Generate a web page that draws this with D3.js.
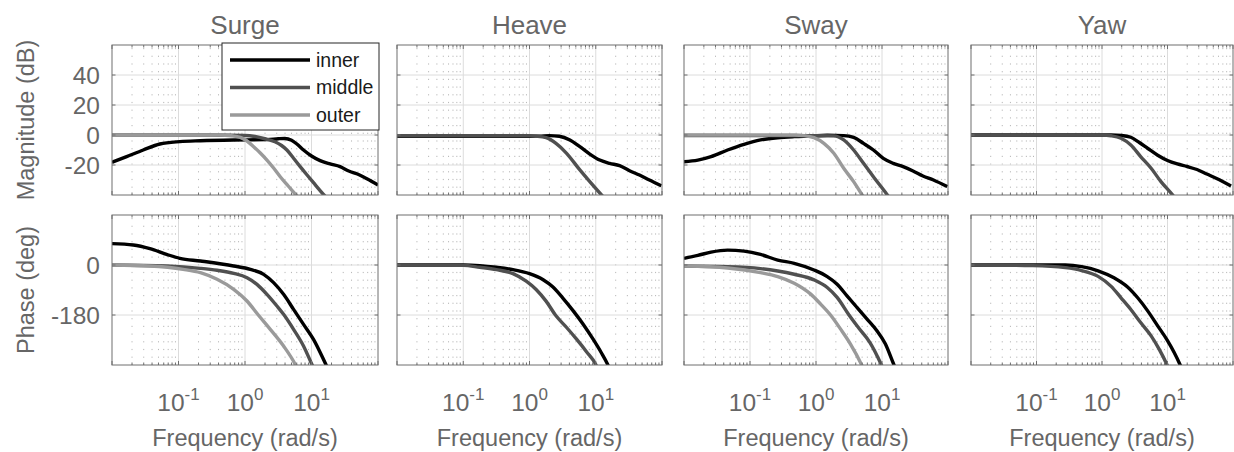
<!DOCTYPE html>
<html>
<head>
<meta charset="utf-8">
<script src="https://cdn.jsdelivr.net/npm/d3@7"></script>
<style>
	body { margin: 0; background: #fff; }
	svg { display: block; font-family: "Liberation Sans", Arial, sans-serif; }
</style>
</head>
<body>
<svg id="chart" width="1234" height="452"></svg>
<script>
// Values: [log10(frequency in rad/s), value]
const panelTitles = ["Surge", "Heave", "Sway", "Yaw"];
const seriesNames = ["inner", "middle", "outer"];
const seriesColors = ["#000000", "#505050", "#9a9a9a"];

const magTicks = [-20, 0, 20, 40];
const phaseTicks = [-180, 0];
const freqTickExps = [-1, 0, 1];

// Surge
const surgeMagInner = [[-2.0, -18.2], [-1.78, -14.4], [-1.53, -10], [-1.28, -6], [-0.98, -4.4], [-0.67, -3.8], [-0.17, -3.3], [0.33, -3.1], [0.5, -2.5], [0.6, -2.3], [0.7, -3.5], [0.78, -6], [0.88, -10], [1.0, -14], [1.13, -17.1], [1.28, -19.3], [1.43, -21.1], [1.56, -24], [1.69, -26], [1.84, -29.3], [2.0, -33.3]];
const surgeMagMiddle = [[-2.0, 0], [-0.5, 0], [0.0, -0.3], [0.15, -1], [0.3, -2.5], [0.45, -4.5], [0.55, -7], [0.63, -10], [0.73, -15.5], [0.83, -21.1], [0.93, -26.5], [1.03, -31.8], [1.18, -39.6], [1.25, -43]];
const surgeMagOuter = [[-2.0, 0], [-0.4, 0], [-0.2, -0.5], [-0.07, -1.6], [0.03, -4], [0.13, -7.8], [0.23, -12], [0.33, -16.7], [0.43, -22], [0.53, -27.8], [0.65, -34], [0.76, -39.6], [0.82, -43]];
const surgePhaseInner = [[-2.0, 76.8], [-1.68, 72], [-1.43, 58.8], [-1.18, 38.4], [-0.98, 24], [-0.67, 14.4], [-0.17, -3.6], [0.08, -15.6], [0.28, -33.6], [0.43, -63.6], [0.58, -105.6], [0.73, -159.6], [0.88, -213.6], [1.03, -267.6], [1.22, -360], [1.26, -380]];
const surgePhaseMiddle = [[-2.0, 0], [-1.18, -3.6], [-0.67, -12], [-0.42, -19], [-0.17, -30], [0.03, -45.6], [0.18, -69.6], [0.33, -105.6], [0.48, -147.6], [0.58, -177.6], [0.73, -231.6], [0.88, -291.6], [1.01, -360], [1.05, -380]];
const surgePhaseOuter = [[-2.0, 0], [-1.43, -3.6], [-0.93, -15.6], [-0.67, -27.6], [-0.42, -51.6], [-0.17, -87.6], [0.03, -129.6], [0.2, -180], [0.38, -231.6], [0.58, -291.6], [0.76, -360], [0.8, -380]];

// Heave
const heaveMagInner = [[-2.0, -0.8], [0.15, -0.8], [0.3, -0.4], [0.45, -0.8], [0.61, -3.3], [0.76, -7.8], [0.91, -12.7], [1.06, -16.7], [1.21, -18.9], [1.36, -20.4], [1.51, -23.8], [1.66, -26.7], [1.81, -30], [1.99, -33.8]];
const heaveMagMiddle = [[-2.0, -0.5], [0.0, -0.5], [0.1, -0.8], [0.25, -1.8], [0.4, -5.6], [0.56, -12.2], [0.76, -23.3], [0.91, -31.1], [1.08, -39.6], [1.15, -43]];
const heavePhaseInner = [[-2.0, 0], [-1.0, 0], [-0.75, -2.4], [-0.5, -8.3], [-0.25, -16.7], [0.0, -31], [0.2, -52], [0.35, -78.5], [0.5, -118], [0.66, -165], [0.81, -213], [0.96, -267], [1.08, -314], [1.18, -358], [1.22, -380]];
const heavePhaseMiddle = [[-2.0, 0], [-1.0, -1.2], [-0.75, -8.3], [-0.5, -16.7], [-0.25, -31], [-0.05, -58], [0.1, -88], [0.25, -130], [0.4, -183], [0.56, -225], [0.71, -267], [0.86, -312], [1.0, -358], [1.04, -380]];

// Sway
const swayMagInner = [[-2.0, -17.8], [-1.79, -16.7], [-1.59, -14.4], [-1.34, -10], [-1.09, -6.2], [-0.84, -3.3], [-0.58, -1.8], [-0.33, -1.1], [-0.08, -0.7], [0.17, -0.2], [0.42, -0.4], [0.57, -1.6], [0.72, -5.6], [0.87, -10], [1.02, -15.6], [1.17, -18.9], [1.32, -21.1], [1.47, -24], [1.62, -27.3], [1.78, -30], [1.99, -34.4]];
const swayMagMiddle = [[-2.0, -0.3], [0.1, -0.5], [0.27, -0.6], [0.42, -3.3], [0.57, -10], [0.72, -18.9], [0.87, -27.8], [1.07, -39.3], [1.15, -44]];
const swayMagOuter = [[-2.0, 0], [-0.33, 0], [-0.18, -0.4], [-0.03, -1.8], [0.12, -5.6], [0.27, -12.2], [0.42, -22.2], [0.57, -31.1], [0.69, -39.3], [0.75, -43]];
const swayPhaseInner = [[-2.0, 23.8], [-1.79, 34.6], [-1.59, 46.5], [-1.34, 53.6], [-1.09, 50], [-0.84, 38], [-0.58, 17.9], [-0.33, 6], [-0.03, -17.9], [0.17, -41.7], [0.32, -69], [0.47, -111], [0.62, -152.6], [0.77, -194], [0.92, -236], [1.05, -283.7], [1.18, -358.8], [1.22, -380]];
const swayPhaseMiddle = [[-2.0, -3.6], [-1.34, -6], [-0.84, -13], [-0.58, -21.5], [-0.33, -33.4], [-0.03, -53.6], [0.17, -81], [0.32, -116.8], [0.5, -180], [0.65, -227.7], [0.82, -280], [0.99, -358.8], [1.03, -380]];
const swayPhaseOuter = [[-2.0, -3.6], [-1.34, -10.7], [-0.84, -27.4], [-0.58, -41.7], [-0.33, -65.6], [-0.08, -104.9], [0.07, -140.7], [0.22, -180], [0.37, -230], [0.52, -283.7], [0.69, -358.8], [0.73, -380]];

// Yaw
const yawMagInner = [[-2.0, 0], [0.14, 0], [0.3, -0.3], [0.44, -1.5], [0.57, -5], [0.7, -9], [0.85, -13.5], [1.0, -17], [1.15, -19.3], [1.3, -21], [1.45, -23], [1.6, -26], [1.75, -29], [1.97, -34]];
const yawMagMiddle = [[-2.0, 0], [0.0, 0], [0.14, -0.5], [0.29, -2.2], [0.44, -6.7], [0.59, -14.4], [0.75, -22.2], [0.9, -31.1], [1.07, -39.6], [1.15, -44]];
const yawPhaseInner = [[-2.0, 0], [-0.56, 0], [-0.31, -6], [-0.06, -21], [0.19, -47], [0.39, -79], [0.545, -118], [0.7, -166], [0.85, -219], [1.0, -272], [1.1, -314], [1.19, -358], [1.23, -380]];
const yawPhaseMiddle = [[-2.0, 0], [-1.06, -2.4], [-0.56, -9.5], [-0.31, -20], [-0.06, -41], [0.14, -77], [0.29, -118], [0.44, -160], [0.59, -207], [0.75, -255], [0.87, -302], [0.99, -358], [1.03, -380]];

const magSeries = [
	[surgeMagInner, surgeMagMiddle, surgeMagOuter],
	[heaveMagInner, heaveMagMiddle],
	[swayMagInner, swayMagMiddle, swayMagOuter],
	[yawMagInner, yawMagMiddle],
];
const phaseSeries = [
	[surgePhaseInner, surgePhaseMiddle, surgePhaseOuter],
	[heavePhaseInner, heavePhaseMiddle],
	[swayPhaseInner, swayPhaseMiddle, swayPhaseOuter],
	[yawPhaseInner, yawPhaseMiddle],
];

// Layout
const panelEdges = [[112, 378], [397, 662], [684, 948], [971, 1233]];
const magBand = [195, 45];
const phaseBand = [365, 215];
const axisColor = "#6e6e6e";
const textColor = "#666666";

const svg = d3.select("#chart");
let clipCount = 0;

const majorFreqs = [0.01, 0.1, 1, 10, 100];
const minorFreqs = [];
for (let k = -2; k <= 1; k++) {
	for (let m = 2; m <= 9; m++) minorFreqs.push(m * 10 ** k);
}

function drawAxes(g, x, y, yTicks, lines) {
	const [x0, x1] = x.range();
	const [yb, yt] = y.range();
	const id = `clip${clipCount++}`;
	g.append("clipPath").attr("id", id)
		.append("rect").attr("x", x0).attr("y", yt).attr("width", x1 - x0).attr("height", yb - yt);

	// minor grid (dotted)
	g.append("g").selectAll("line").data(minorFreqs).join("line")
		.attr("x1", (d) => x(d)).attr("x2", (d) => x(d))
		.attr("y1", yt + 3).attr("y2", yb)
		.attr("stroke", "#b8b8b8").attr("stroke-width", 1)
		.attr("stroke-dasharray", "1.2,6.5");

	// major grid
	g.append("g").selectAll("line").data(majorFreqs.slice(1, -1)).join("line")
		.attr("x1", (d) => x(d)).attr("x2", (d) => x(d))
		.attr("y1", yt).attr("y2", yb)
		.attr("stroke", "#dcdcdc").attr("stroke-width", 1);
	g.append("g").selectAll("line").data(yTicks).join("line")
		.attr("x1", x0).attr("x2", x1)
		.attr("y1", (d) => y(d)).attr("y2", (d) => y(d))
		.attr("stroke", "#dcdcdc").attr("stroke-width", 1);

	// curves
	const line = d3.line()
		.x((d) => x(10 ** d[0]))
		.y((d) => y(d[1]))
		.curve(d3.curveMonotoneX);
	g.append("g").attr("clip-path", `url(#${id})`)
		.selectAll("path").data(lines).join("path")
		.attr("d", (d) => line(d))
		.attr("fill", "none")
		.attr("stroke", (d, i) => seriesColors[i])
		.attr("stroke-width", 3.4)
		.attr("stroke-linejoin", "round");

	// box
	g.append("rect")
		.attr("x", x0).attr("y", yt).attr("width", x1 - x0).attr("height", yb - yt)
		.attr("fill", "none").attr("stroke", axisColor).attr("stroke-width", 1);

	// inward tick marks
	const ticks = g.append("g").attr("stroke", axisColor).attr("stroke-width", 1);
	const xt = majorFreqs.map((d) => ({ v: d, len: 4 }))
		.concat(minorFreqs.map((d) => ({ v: d, len: 2.5 })));
	for (const t of xt) {
		ticks.append("line").attr("x1", x(t.v)).attr("x2", x(t.v)).attr("y1", yb).attr("y2", yb - t.len);
		ticks.append("line").attr("x1", x(t.v)).attr("x2", x(t.v)).attr("y1", yt).attr("y2", yt + t.len);
	}
	for (const v of yTicks) {
		ticks.append("line").attr("x1", x0).attr("x2", x0 + 3.5).attr("y1", y(v)).attr("y2", y(v));
		ticks.append("line").attr("x1", x1).attr("x2", x1 - 3.5).attr("y1", y(v)).attr("y2", y(v));
	}
}

panelTitles.forEach((title, p) => {
	const [left, right] = panelEdges[p];
	const x = d3.scaleLog().domain([0.01, 100]).range([left, right]);
	const yMag = d3.scaleLinear().domain([-40, 60]).range(magBand);
	const yPhase = d3.scaleLinear().domain([-360, 180]).range(phaseBand);

	const g = svg.append("g");
	drawAxes(g, x, yMag, magTicks, magSeries[p]);
	drawAxes(g, x, yPhase, phaseTicks, phaseSeries[p]);

	// title
	g.append("text")
		.attr("x", (left + right) / 2).attr("y", 34)
		.attr("text-anchor", "middle")
		.attr("font-size", 26).attr("fill", textColor)
		.text(title);

	// frequency tick labels
	const lab = g.append("g").attr("fill", textColor);
	for (const e of freqTickExps) {
		const t = lab.append("text")
			.attr("x", x(10 ** e)).attr("y", 411)
			.attr("text-anchor", "middle").attr("font-size", 24.5);
		t.append("tspan").text("10");
		t.append("tspan").attr("font-size", 17).attr("dy", -11).text(e);
	}
	g.append("text")
		.attr("x", (left + right) / 2).attr("y", 446)
		.attr("text-anchor", "middle")
		.attr("font-size", 23.5).attr("fill", textColor)
		.text("Frequency (rad/s)");

	if (p === 0) {
		g.append("g").selectAll("text").data(magTicks).join("text")
			.attr("x", left - 12).attr("y", (d) => yMag(d))
			.attr("dy", "0.36em").attr("text-anchor", "end")
			.attr("font-size", 24.5).attr("fill", textColor)
			.text((d) => d);
		g.append("g").selectAll("text").data(phaseTicks).join("text")
			.attr("x", left - 12).attr("y", (d) => yPhase(d))
			.attr("dy", "0.36em").attr("text-anchor", "end")
			.attr("font-size", 24.5).attr("fill", textColor)
			.text((d) => d);
		g.append("text")
			.attr("transform", `translate(34,${(magBand[0] + magBand[1]) / 2}) rotate(-90)`)
			.attr("text-anchor", "middle")
			.attr("font-size", 23.5).attr("fill", textColor)
			.text("Magnitude (dB)");
		g.append("text")
			.attr("transform", `translate(34,${(phaseBand[0] + phaseBand[1]) / 2}) rotate(-90)`)
			.attr("text-anchor", "middle")
			.attr("font-size", 23.5).attr("fill", textColor)
			.text("Phase (deg)");
	}
});

// Legend on the Surge magnitude axes
const legend = svg.append("g").attr("transform", "translate(222,43)");
legend.append("rect")
	.attr("width", 157).attr("height", 87)
	.attr("fill", "#fff").attr("stroke", "#262626").attr("stroke-width", 1);
seriesNames.forEach((name, i) => {
	const yy = 17 + i * 27.5;
	legend.append("line")
		.attr("x1", 8).attr("x2", 88).attr("y1", yy).attr("y2", yy)
		.attr("stroke", seriesColors[i]).attr("stroke-width", 3.4);
	legend.append("text")
		.attr("x", 94).attr("y", yy).attr("dy", "0.35em")
		.attr("font-size", 19.5).attr("fill", "#1a1a1a")
		.text(name);
});
</script>
</body>
</html>
